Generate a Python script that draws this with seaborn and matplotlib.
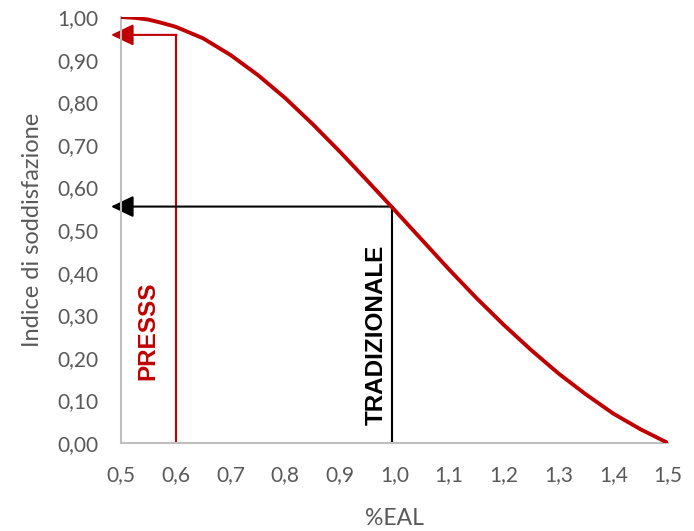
import matplotlib
matplotlib.use("Agg")
import matplotlib.pyplot as plt
import seaborn as sns
import pandas as pd

# Satisfaction index as a function of %EAL
eal = [0.50, 0.525, 0.55, 0.575, 0.60, 0.65, 0.70, 0.75, 0.80, 0.85, 0.90, 0.95, 1.00,
       1.05, 1.10, 1.15, 1.20, 1.25, 1.30, 1.35, 1.40, 1.45, 1.50]
indice = [1.000, 0.998, 0.994, 0.986, 0.977, 0.950, 0.911, 0.864, 0.810, 0.749, 0.684,
          0.616, 0.547, 0.477, 0.407, 0.340, 0.277, 0.218, 0.163, 0.114, 0.069, 0.032,
          0.000]

# Two reference systems: (EAL, index) read-off points
presss_x, presss_y = 0.60, 0.958
trad_x, trad_y = 0.995, 0.555

x_ticks = [0.5, 0.6, 0.7, 0.8, 0.9, 1.0, 1.1, 1.2, 1.3, 1.4, 1.5]
y_ticks = [0.0, 0.1, 0.2, 0.3, 0.4, 0.5, 0.6, 0.7, 0.8, 0.9, 1.0]

RED = "#C00000"
GREY_TXT = "#595959"
GREY_AX = "#BFBFBF"

sns.set_theme(style="white")
plt.rcParams["font.family"] = ["Lato", "DejaVu Sans"]

df = pd.DataFrame({"EAL": eal, "Indice": indice})

fig = plt.figure(figsize=(6.94, 5.31), dpi=100)
ax = fig.add_axes([121 / 694, 1 - 443 / 531, 547 / 694, 426 / 531])

sns.lineplot(data=df, x="EAL", y="Indice", ax=ax, color=RED, linewidth=2.8,
             zorder=3)

ax.set_xlim(0.5, 1.5)
ax.set_ylim(0.0, 1.0)

arrow = "-|>,head_length=1.15,head_width=0.55"

# Guide lines and arrows for the two systems
ax.plot([presss_x, presss_x], [0, presss_y], color=RED, linewidth=1.5, zorder=2)
ax.annotate("", xy=(0.4817, presss_y), xytext=(presss_x + 0.0015, presss_y),
            arrowprops=dict(arrowstyle=arrow, color=RED, lw=1.5,
                            shrinkA=0, shrinkB=0),
            annotation_clip=False, zorder=2)

ax.plot([trad_x, trad_x], [0, trad_y], color="black", linewidth=1.5, zorder=2)
ax.annotate("", xy=(0.4817, trad_y), xytext=(trad_x + 0.0015, trad_y),
            arrowprops=dict(arrowstyle=arrow, color="black", lw=1.5,
                            shrinkA=0, shrinkB=0),
            annotation_clip=False, zorder=2)

bold_font = dict(family=["Liberation Sans", "DejaVu Sans"], weight="bold", size=17.5)
ax.text(0.5485, 0.263, "PRESSS", rotation=90, color=RED, fontdict=bold_font,
        ha="center", va="center")
ax.text(0.9665, 0.254, "TRADIZIONALE", rotation=90, color="black", fontdict=bold_font,
        ha="center", va="center")

ax.set_xticks(x_ticks)
ax.set_yticks(y_ticks)
ax.set_xticklabels([f"{v:.1f}".replace(".", ",") for v in x_ticks])
ax.set_yticklabels([f"{v:.2f}".replace(".", ",") for v in y_ticks])

ax.tick_params(axis="both", direction="in", length=6, width=1.3, color=GREY_AX,
               labelsize=15, labelcolor=GREY_TXT)
ax.tick_params(axis="y", pad=16)
ax.tick_params(axis="x", pad=16)

for side in ["top", "right"]:
    ax.spines[side].set_visible(False)
for side in ["left", "bottom"]:
    ax.spines[side].set_color(GREY_AX)
    ax.spines[side].set_linewidth(1.5)

ax.set_xlabel("%EAL", fontsize=16.5, color=GREY_TXT)
ax.set_ylabel("Indice di soddisfazione", fontsize=17, color=GREY_TXT)
ax.xaxis.set_label_coords(0.5, -0.152)
ax.yaxis.set_label_coords(-0.142, 0.5)

fig.savefig("out.png", dpi=100)
